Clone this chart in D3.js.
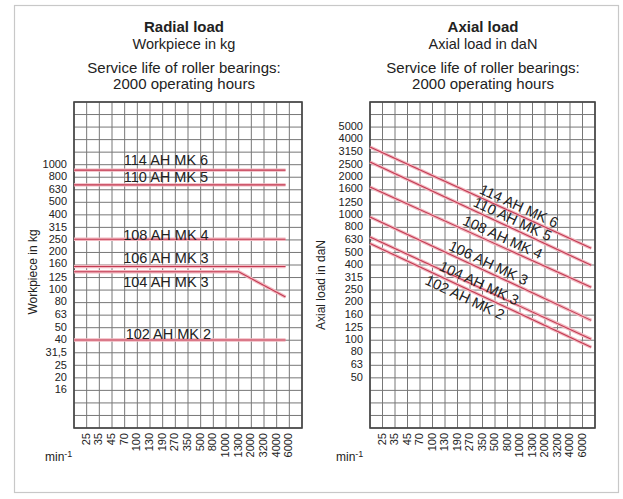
<!DOCTYPE html>
<html><head><meta charset="utf-8">
<script src="https://cdn.jsdelivr.net/npm/d3@7/dist/d3.min.js"></script>
<style>
body{margin:0;background:#fff}
text{font-family:"Liberation Sans",Arial,Helvetica,sans-serif;fill:#222}
</style>
</head><body>
<svg id="chart" width="623" height="499"></svg>
<script>
// ---------- data ----------
const speeds = ["25","35","45","70","100","130","190","270","350","500","800","1000","1300","2000","3200","4000","6000"];
const radialTicks = [1000,800,630,500,400,315,250,200,160,125,100,80,63,50,40,31.5,25,20,16];
const radialTickLabels = ["1000","800","630","500","400","315","250","200","160","125","100","80","63","50","40","31,5","25","20","16"];
const axialTicks = [5000,4000,3150,2500,2000,1600,1250,1000,800,630,500,400,315,250,200,160,125,100,80,63,50];
const seriesNames = ["114 AH MK 6","110 AH MK 5","108 AH MK 4","106 AH MK 3","104 AH MK 3","102 AH MK 2"];
// points: [grid column position (speeds[i] sits at column i+1), load]
const radialValues = [
  [[0,905],[16.7,905]],
  [[0,690],[16.7,690]],
  [[0,254],[16.7,254]],
  [[0,154],[16.7,154]],
  [[0,140],[13,140],[16.7,88]],
  [[0,40],[16.7,40]]
];
const axialValues = [
  [[0,3475],[17.7,541]],
  [[0,2640],[17.7,396]],
  [[0,1667],[17.7,264]],
  [[0,962],[17.7,144]],
  [[0,665],[17.7,102]],
  [[0,590],[17.7,88]]
];
// label placement: [column, perpendicular offset]
const radialLabelPos = [[7.26,-10],[7.26,-8.3],[7.26,-4.3],[7.26,-8.7],[7.26,10],[7.45,-6]];
const axialLabelPos = [[11.64,-8.4],[11.12,-8.6],[10.32,-9.1],[9.2,-8.5],[8.6,-3.9],[7.88,8.5]];

// ---------- drawing ----------
const svg = d3.select("#chart");
svg.append("rect").attr("x",14.5).attr("y",5.5).attr("width",604).attr("height",487)
  .attr("fill","none").attr("stroke","#c8c8c8").attr("stroke-width",1.2);

function panel(opt){
  const g = svg.append("g");
  const x = d3.scaleLinear().domain([0, speeds.length+1]).range([opt.left, opt.right]);
  const y = d3.scaleLog().domain(opt.yDomain).range([opt.bottom, opt.top]);

  // titles
  const cx = opt.titleX;
  g.append("text").attr("x",cx).attr("y",32).attr("text-anchor","middle")
    .attr("font-size",15).attr("font-weight","bold").text(opt.title);
  g.append("text").attr("x",cx).attr("y",49).attr("text-anchor","middle")
    .attr("font-size",14.5).attr("fill","#333").text(opt.sub);
  g.append("text").attr("x",cx).attr("y",73).attr("text-anchor","middle")
    .attr("font-size",15).attr("fill","#333").text("Service life of roller bearings:");
  g.append("text").attr("x",cx).attr("y",89).attr("text-anchor","middle")
    .attr("font-size",15).attr("fill","#333").text("2000 operating hours");

  // grid
  const lo = Math.round(Math.log10(opt.yDomain[0])*10), hi = Math.round(Math.log10(opt.yDomain[1])*10);
  const hVals = d3.range(lo, hi+1).map(k => Math.pow(10, k/10));
  g.append("g").selectAll("line").data(hVals).join("line")
    .attr("x1",opt.left).attr("x2",opt.right)
    .attr("y1",d=>y(d)).attr("y2",d=>y(d))
    .attr("stroke","#777").attr("stroke-width",1);
  g.append("g").selectAll("line").data(d3.range(0, speeds.length+2)).join("line")
    .attr("x1",d=>x(d)).attr("x2",d=>x(d))
    .attr("y1",opt.top).attr("y2",opt.bottom)
    .attr("stroke","#777").attr("stroke-width",1);
  g.append("rect").attr("x",opt.left).attr("y",opt.top)
    .attr("width",opt.right-opt.left).attr("height",opt.bottom-opt.top)
    .attr("fill","none").attr("stroke","#444").attr("stroke-width",1.6);

  // y tick labels
  g.append("g").selectAll("text").data(opt.ticks).join("text")
    .attr("x",opt.left-7).attr("y",(d)=>y(d)-1)
    .attr("text-anchor","end").attr("dominant-baseline","central")
    .attr("font-size",11).attr("fill","#333")
    .text((d,i)=>opt.tickLabels[i]);

  // x tick labels
  g.append("g").selectAll("text").data(speeds).join("text")
    .attr("transform",(d,i)=>`translate(${x(i+1)-1},${opt.bottom+5}) rotate(-90)`)
    .attr("text-anchor","end").attr("dominant-baseline","central")
    .attr("font-size",11).attr("fill","#333").text(d=>d);

  // min-1
  const m = g.append("text").attr("x",opt.minX).attr("y",461).attr("font-size",12).attr("fill","#333");
  m.append("tspan").text("min");
  m.append("tspan").attr("dy",-4).attr("font-size",9).text("-1");

  // y axis title
  g.append("text").attr("transform",`translate(${opt.yTitleX},${opt.yTitleY}) rotate(-90)`)
    .attr("text-anchor","middle").attr("dominant-baseline","central")
    .attr("font-size",12).attr("fill","#333").text(opt.yTitle);

  // series lines
  const line = d3.line().x(d=>x(d[0])).y(d=>y(d[1]));
  opt.values.forEach((pts,i)=>{
    g.append("path").attr("d",line(pts)).attr("fill","none")
      .attr("stroke","#f2b8c0").attr("stroke-width",3.4);
    g.append("path").attr("d",line(pts)).attr("fill","none")
      .attr("stroke","#c23a52").attr("stroke-width",1.1);
  });

  // series labels
  opt.values.forEach((pts,i)=>{
    const [col, off] = opt.labelPos[i];
    let s = 0;
    for (let k=0;k<pts.length-1;k++) if (col>=pts[k][0] && col<=pts[k+1][0]) s=k;
    const p0=[x(pts[s][0]),y(pts[s][1])], p1=[x(pts[s+1][0]),y(pts[s+1][1])];
    const t=(x(col)-p0[0])/(p1[0]-p0[0]);
    const px=x(col), py=p0[1]+t*(p1[1]-p0[1]);
    const ang=opt.rotate ? Math.atan2(p1[1]-p0[1],p1[0]-p0[0])*180/Math.PI : 0;
    g.append("text").attr("transform",`translate(${px},${py}) rotate(${ang})`)
      .attr("y",off).attr("text-anchor","middle").attr("dominant-baseline","central")
      .attr("font-size",14.5).attr("fill","#2a2a2a").text(seriesNames[i]);
  });
}

panel({left:74,right:302,top:102,bottom:428,yDomain:[Math.pow(10,0.9),Math.pow(10,3.5)],
  ticks:radialTicks,tickLabels:radialTickLabels,title:"Radial load",sub:"Workpiece in kg",titleX:184,
  minX:45,yTitleX:33,yTitleY:272,yTitle:"Workpiece in kg",values:radialValues,labelPos:radialLabelPos,rotate:false});
panel({left:370,right:595,top:102,bottom:428,yDomain:[Math.pow(10,1.3),Math.pow(10,3.9)],
  ticks:axialTicks,tickLabels:axialTicks.map(String),title:"Axial load",sub:"Axial load in daN",titleX:483,
  minX:336,yTitleX:321,yTitleY:285,yTitle:"Axial load in daN",values:axialValues,labelPos:axialLabelPos,rotate:true});
</script>
</body></html>
